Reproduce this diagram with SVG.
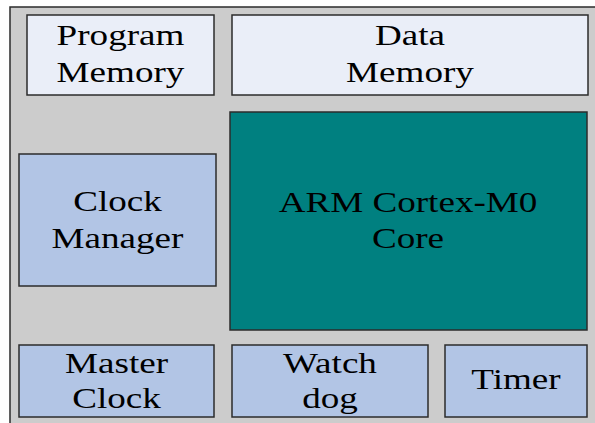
<svg xmlns="http://www.w3.org/2000/svg" width="595" height="423" viewBox="0 0 595 423">
<style>
.box{stroke:#2b2b2b;stroke-width:1.5}
.light{fill:#eaeef8}
.blue{fill:#b2c5e5}
.core{fill:#008080}
text{font-family:"Liberation Serif","Times New Roman",serif;font-size:29px;fill:#000;text-anchor:middle}
</style>
<rect width="595" height="423" fill="#ffffff"/>
<rect x="10" y="7" width="600" height="430" fill="#cccccc" stroke="#2b2b2b" stroke-width="1.5"/>
<g id="program-memory">
<rect class="box light" x="27" y="15" width="187" height="80"/>
<text transform="translate(120.5,0) scale(1.28,1)"><tspan x="0" y="45">Program</tspan><tspan x="0" y="82">Memory</tspan></text>
</g>
<g id="data-memory">
<rect class="box light" x="232" y="15" width="356" height="80"/>
<text transform="translate(410,0) scale(1.28,1)"><tspan x="0" y="45">Data</tspan><tspan x="0" y="82">Memory</tspan></text>
</g>
<g id="clock-manager">
<rect class="box blue" x="19" y="154" width="197" height="132"/>
<text transform="translate(117.5,0) scale(1.28,1)"><tspan x="0" y="211">Clock</tspan><tspan x="0" y="248">Manager</tspan></text>
</g>
<g id="core">
<rect class="box core" x="230" y="112" width="357" height="218"/>
<text transform="translate(408,0) scale(1.28,1)"><tspan x="0" y="212">ARM Cortex-M0</tspan><tspan x="0" y="248">Core</tspan></text>
</g>
<g id="master-clock">
<rect class="box blue" x="19" y="345" width="195" height="72"/>
<text transform="translate(116.5,0) scale(1.28,1)"><tspan x="0" y="373">Master</tspan><tspan x="0" y="408">Clock</tspan></text>
</g>
<g id="watchdog">
<rect class="box blue" x="232" y="345" width="196" height="72"/>
<text transform="translate(330,0) scale(1.28,1)"><tspan x="0" y="373">Watch</tspan><tspan x="0" y="408">dog</tspan></text>
</g>
<g id="timer">
<rect class="box blue" x="445" y="345" width="142" height="72"/>
<text transform="translate(516,0) scale(1.28,1)"><tspan x="0" y="389">Timer</tspan></text>
</g>
<g id="connectors"></g>
</svg>
